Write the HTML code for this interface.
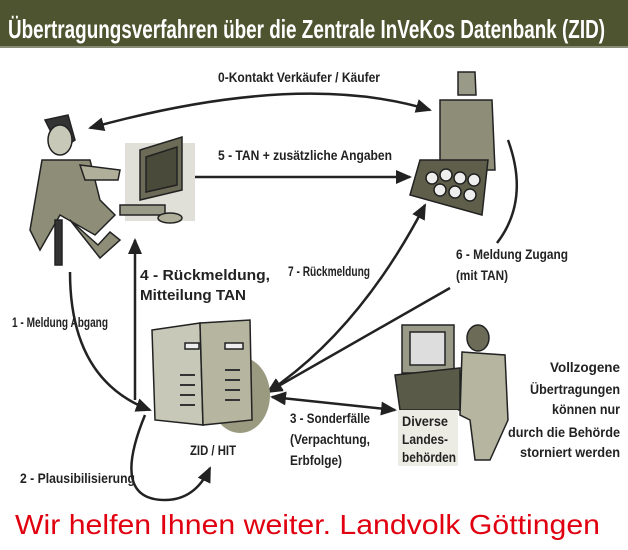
<!DOCTYPE html>
<html><head><meta charset="utf-8"><style>
html,body{margin:0;padding:0;background:#fff;}
svg{display:block;}
text{font-family:"Liberation Sans",Arial,sans-serif;}
</style></head><body>
<svg width="628" height="550" viewBox="0 0 628 550" xmlns="http://www.w3.org/2000/svg">
<defs>
<marker id="ahb" markerWidth="16" markerHeight="14" refX="14" refY="7" orient="auto" markerUnits="userSpaceOnUse">
<path d="M0,0 L16,7 L0,14 Z" fill="#222"/></marker>
<marker id="ahs" markerWidth="16" markerHeight="14" refX="2" refY="7" orient="auto" markerUnits="userSpaceOnUse">
<path d="M16,0 L0,7 L16,14 Z" fill="#222"/></marker>
</defs>
<rect x="0" y="0" width="628" height="48" fill="#4e5430"/>
<rect x="0" y="46" width="628" height="2" fill="#8a8c78"/>
<text x="8" y="38" fill="#fff" font-size="26" font-weight="bold" textLength="597" lengthAdjust="spacingAndGlyphs">Übertragungsverfahren über die Zentrale InVeKos Datenbank (ZID)</text>

<g font-weight="bold" font-size="14" fill="#222">
<text x="218" y="82" textLength="162" lengthAdjust="spacingAndGlyphs">0-Kontakt Verkäufer / Käufer</text>
<text x="218" y="160" textLength="174" lengthAdjust="spacingAndGlyphs">5 - TAN + zusätzliche Angaben</text>
<text x="140" y="280" font-size="15" textLength="130" lengthAdjust="spacingAndGlyphs">4 - Rückmeldung,</text>
<text x="140" y="300" font-size="15" textLength="106" lengthAdjust="spacingAndGlyphs">Mitteilung TAN</text>
<text x="288" y="276" textLength="82" lengthAdjust="spacingAndGlyphs">7 - Rückmeldung</text>
<text x="456" y="259" textLength="112" lengthAdjust="spacingAndGlyphs">6 - Meldung Zugang</text>
<text x="456" y="280" textLength="52" lengthAdjust="spacingAndGlyphs">(mit TAN)</text>
<text x="12" y="327" textLength="96" lengthAdjust="spacingAndGlyphs">1 - Meldung Abgang</text>
<text x="190" y="455" textLength="46" lengthAdjust="spacingAndGlyphs">ZID / HIT</text>
<text x="20" y="483" textLength="115" lengthAdjust="spacingAndGlyphs">2 - Plausibilisierung</text>
<text x="290" y="423" textLength="80" lengthAdjust="spacingAndGlyphs">3 - Sonderfälle</text>
<text x="290" y="444" textLength="80" lengthAdjust="spacingAndGlyphs">(Verpachtung,</text>
<text x="290" y="465" textLength="52" lengthAdjust="spacingAndGlyphs">Erbfolge)</text>
<g text-anchor="end">
<text x="620" y="372" textLength="70" lengthAdjust="spacingAndGlyphs">Vollzogene</text>
<text x="620" y="394" textLength="90" lengthAdjust="spacingAndGlyphs">Übertragungen</text>
<text x="620" y="414" textLength="68" lengthAdjust="spacingAndGlyphs">können nur</text>
<text x="620" y="437" textLength="112" lengthAdjust="spacingAndGlyphs">durch die Behörde</text>
<text x="620" y="457" textLength="100" lengthAdjust="spacingAndGlyphs">storniert werden</text>
</g>
</g>

<g fill="none" stroke="#222" stroke-width="2.5">
<path d="M430,110 Q300,70 90,128" marker-end="url(#ahb)" marker-start="url(#ahs)"/>
<path d="M193,177 L410,177" marker-end="url(#ahb)"/>
<path d="M135,400 L135,240" marker-end="url(#ahb)"/>
<path d="M70,272 Q70,380 150,410" marker-end="url(#ahb)"/>
<path d="M145,415 Q110,500 165,500 Q195,500 210,468" marker-end="url(#ahb)"/>
<path d="M268,392 Q360,330 425,205" marker-start="url(#ahs)" marker-end="url(#ahb)"/>
<path d="M450,288 L268,392" marker-end="url(#ahb)"/>
<path d="M508,140 Q530,200 497,243"/>
<path d="M272,397 L395,410" marker-start="url(#ahs)" marker-end="url(#ahb)"/>
</g>

<g stroke="#222" stroke-width="1.5">
<path d="M45,120 L68,115 L75,140 L60,150 Z" fill="#333"/>
<ellipse cx="60" cy="140" rx="12" ry="15" fill="#c8c8b8"/>
<path d="M42,160 L90,160 L100,200 L115,215 L95,235 L60,215 L40,250 L30,230 Z" fill="#8e8e78"/>
<path d="M80,165 L120,170 L118,180 L85,180 Z" fill="#b0b09a"/>
<path d="M70,220 L100,258 L120,240 L110,232 L98,245 Z" fill="#8e8e78"/>
<rect x="55" y="220" width="7" height="45" fill="#333"/>
</g>
<rect x="125" y="143" width="70" height="78" fill="#e0e0d8"/>
<g stroke="#222" stroke-width="1.5">
<path d="M140,150 L182,137 L182,190 L140,200 Z" fill="#6b6b58"/>
<path d="M146,157 L177,147 L177,185 L146,192 Z" fill="#4a4a3a"/>
<rect x="120" y="205" width="45" height="10" fill="#9a9a88"/>
<ellipse cx="170" cy="218" rx="12" ry="5" fill="#b0b09a"/>
</g>

<g stroke="#222" stroke-width="1.5">
<path d="M458,72 L475,72 L476,95 L458,95 Z" fill="#9a9a88"/>
<path d="M440,100 L492,100 L495,170 L440,170 Z" fill="#8e8e78"/>
<path d="M410,195 L420,160 L488,160 L482,215 Z" fill="#5e5e4a"/>
<g fill="#eee">
<circle cx="432" cy="178" r="6"/><circle cx="446" cy="175" r="6"/><circle cx="460" cy="178" r="6"/><circle cx="474" cy="180" r="6"/>
<circle cx="440" cy="190" r="6"/><circle cx="455" cy="192" r="6"/><circle cx="470" cy="195" r="6"/>
</g>
</g>

<ellipse cx="240" cy="395" rx="30" ry="38" fill="#9a9a80"/>
<g stroke="#222" stroke-width="1.5">
<path d="M152,330 L200,323 L203,425 L155,420 Z" fill="#c8c8b8"/>
<path d="M200,323 L250,320 L252,420 L203,425 Z" fill="#b5b5a0"/>
<g stroke="#333" stroke-width="2">
<path d="M180,375 L195,375 M180,385 L195,385 M180,395 L195,395 M180,405 L195,405 M225,370 L240,370 M225,380 L240,380 M225,390 L240,390 M225,400 L240,400"/>
</g>
<rect x="185" y="343" width="14" height="6" fill="#eee"/>
<rect x="225" y="343" width="18" height="6" fill="#eee"/>
</g>

<g stroke="#222" stroke-width="1.5">
<rect x="402" y="325" width="52" height="48" fill="#9a9a88"/>
<rect x="410" y="332" width="35" height="33" fill="#ddd"/>
<path d="M395,375 L460,368 L460,410 L400,410 Z" fill="#5a5a48"/>
<ellipse cx="478" cy="338" rx="11" ry="13" fill="#6b6b58"/>
<path d="M462,352 L505,355 L508,420 L490,460 L475,460 L470,420 L460,415 Z" fill="#b5b5a0"/>
</g>
<rect x="398" y="410" width="60" height="56" fill="#ecece4"/>
<g font-weight="bold" font-size="14" fill="#222">
<text x="402" y="426" textLength="46" lengthAdjust="spacingAndGlyphs">Diverse</text>
<text x="402" y="444" textLength="46" lengthAdjust="spacingAndGlyphs">Landes-</text>
<text x="402" y="462" textLength="54" lengthAdjust="spacingAndGlyphs">behörden</text>
</g>

<text x="15" y="534" fill="#e00010" font-size="27.5" textLength="585" lengthAdjust="spacingAndGlyphs">Wir helfen Ihnen weiter. Landvolk Göttingen</text>
</svg>
</body></html>
